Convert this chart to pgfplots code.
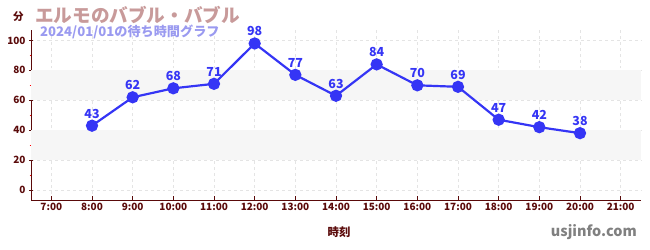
\documentclass[border=0pt]{standalone}
\usepackage{pgfplots}
\pgfplotsset{compat=1.18}
\usepackage{fontspec}
\setmainfont{Noto Sans CJK JP}
\definecolor{axred}{HTML}{5A0A0A}
\definecolor{lineblue}{HTML}{3535F5}
\definecolor{titlecol}{HTML}{C89A9A}
\definecolor{subcol}{HTML}{9A9AF0}
\definecolor{band}{HTML}{F6F6F6}
\definecolor{gridc}{HTML}{E4E4E4}
\begin{document}
\begin{tikzpicture}
\path[use as bounding box] (0,0) rectangle (650bp,250bp);
\begin{axis}[
  at={(31bp,50bp)}, anchor=south west,
  scale only axis, width=610bp, height=170bp,
  xmin=6.5, xmax=21.5, ymin=-6.7, ymax=107,
  xtick={7,...,21},
  xticklabels={7:00,8:00,9:00,10:00,11:00,12:00,13:00,14:00,15:00,16:00,17:00,18:00,19:00,20:00,21:00},
  ytick={0,20,...,100},
  minor ytick={10,30,...,90},
  axis x line*=bottom, axis y line*=left,
  axis line style={axred, line width=0.8pt, -},
  tick style={axred, line width=0.6pt},
  minor tick style={red, line width=0.6pt},
  major tick length=4bp, minor tick length=3bp,
  xtick align=inside, ytick align=center,
  grid=major, grid style={gridc, dashed, line width=0.5pt},
  /pgf/number format/assume math mode=true,
  ticklabel style={font=\fontsize{10}{11}\selectfont\bfseries, text=axred},
  xlabel={\bfseries 時刻},
  xlabel style={font=\fontsize{11.5}{12}\selectfont, text=axred, at={(axis description cs:0.505,-0.19)}, anchor=center},
  clip=false,
]
\fill[band] (axis cs:6.5,20) rectangle (axis cs:21.5,40);
\fill[band] (axis cs:6.5,60) rectangle (axis cs:21.5,80);
\addplot[lineblue, line width=2.2pt, mark=*, mark size=5bp,
  nodes near coords, point meta=explicit symbolic,
  nodes near coords style={font=\fontsize{12.5}{13}\selectfont\bfseries, text=lineblue, anchor=south, yshift=3bp}]
  table[meta=v] {
  x v
  8 43
  9 62
  10 68
  11 71
  12 98
  13 77
  14 63
  15 84
  16 70
  17 69
  18 47
  19 42
  20 38
};
\end{axis}
\node[anchor=west, text=titlecol, font=\fontsize{18.7}{19}\selectfont\bfseries, inner sep=0] at (35bp,235bp) {エルモのバブル・バブル};
\node[anchor=west, text=axred, font=\fontsize{10.5}{11}\selectfont\bfseries, inner sep=0] at (13bp,233bp) {分};
\node[anchor=west, text=subcol, font=\fontsize{13.2}{14}\selectfont\bfseries, inner sep=0] at (40bp,218bp) {2024/01/01の待ち時間グラフ};
\node[anchor=east, text=gray, font=\fontsize{14.5}{15}\selectfont\bfseries, inner sep=0] at (637bp,18bp) {usjinfo.com};
\end{tikzpicture}
\end{document}
